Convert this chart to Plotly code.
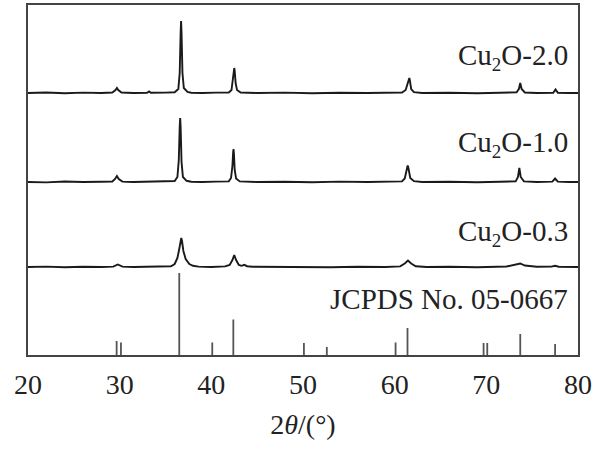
import plotly.graph_objects as go

# ---------------- data ----------------
# 2theta positions (deg) and intensity above each pattern's baseline (a.u.)
cu2o_20_x = [20.0, 22.0, 24.0, 26.0, 28.0, 29.2, 29.55, 29.7, 29.85, 30.2, 31.5, 33.0, 33.2, 33.4, 35.0,
             36.0, 36.4, 36.55, 36.65, 36.7, 36.75, 36.85, 37.0, 37.4, 37.8, 39.0, 40.5, 41.9, 42.2,
             42.35, 42.45, 42.5, 42.55, 42.65, 42.8, 43.2, 45.0, 48.0, 51.0, 54.0, 57.0, 60.8, 61.2,
             61.4, 61.55, 61.6, 61.65, 61.8, 62.1, 63.0, 66.0, 69.0, 71.5, 73.3, 73.55, 73.7, 73.85,
             74.2, 75.5, 77.3, 77.55, 77.8, 79.0, 80.0]
cu2o_20_y = [0.0, 0.5, -0.3, 0.4, 0.0, 0.5, 3.0, 5.0, 3.0, 0.5, 0.0, 0.3, 1.5, 0.2, 0.4,
             0.8, 4.0, 20.0, 60.0, 72.0, 60.0, 20.0, 5.0, 1.2, 0.3, 0.0, 0.4, 0.5, 3.0,
             12.0, 22.0, 25.0, 22.0, 10.0, 3.0, 0.5, 0.0, 0.4, -0.3, 0.3, 0.0, 0.5, 3.0,
             10.0, 14.0, 15.0, 13.0, 4.0, 0.8, 0.0, 0.3, -0.2, 0.3, 0.6, 4.0, 10.0, 4.0,
             0.5, 0.0, 0.3, 3.5, 0.3, 0.0, 0.0]

cu2o_10_x = [20.0, 22.0, 24.0, 26.0, 28.0, 29.2, 29.5, 29.7, 29.9, 30.3, 31.5, 33.0, 35.0,
             36.0, 36.3, 36.45, 36.55, 36.6, 36.65, 36.75, 36.9, 37.3, 37.8, 39.0, 40.5, 41.9, 42.15,
             42.3, 42.38, 42.42, 42.46, 42.55, 42.7, 43.1, 45.0, 48.0, 51.0, 54.0, 57.0, 60.8, 61.1,
             61.3, 61.42, 61.5, 61.7, 62.1, 63.0, 66.0, 69.0, 71.5, 73.2, 73.45, 73.6, 73.75,
             74.1, 75.5, 77.2, 77.5, 77.8, 79.0, 80.0]
cu2o_10_y = [0.0, -0.4, 0.5, 0.0, 0.3, 0.5, 3.0, 6.0, 3.0, 0.4, 0.0, 0.4, 0.3,
             1.0, 5.0, 22.0, 55.0, 64.0, 55.0, 20.0, 5.0, 1.2, 0.3, 0.0, 0.4, 0.6, 4.0,
             16.0, 30.0, 33.0, 29.0, 12.0, 3.5, 0.6, 0.0, 0.3, -0.3, 0.4, 0.0, 0.6, 3.5,
             11.0, 16.5, 14.0, 4.0, 0.8, 0.0, 0.3, -0.2, 0.3, 0.6, 5.0, 14.0, 5.0,
             0.6, 0.0, 0.4, 3.5, 0.4, 0.0, 0.0]

cu2o_03_x = [20.0, 22.0, 24.0, 26.0, 28.0, 29.3, 29.8, 30.3, 31.5, 33.0, 34.5, 35.6, 36.0,
             36.3, 36.5, 36.65, 36.72, 36.8, 36.95, 37.2, 37.6, 38.0, 38.6, 40.0, 41.5, 42.0,
             42.3, 42.5, 42.7, 43.0, 43.3, 43.6, 43.9, 44.5, 47.0, 50.0, 53.0, 56.0, 59.0, 60.6,
             61.1, 61.45, 61.8, 62.3, 63.5, 66.0, 69.0, 72.2, 73.2, 73.7, 74.2, 75.5, 77.1, 77.5,
             77.9, 79.0, 80.0]
cu2o_03_y = [0.0, 0.4, -0.3, 0.3, 0.0, 0.4, 2.5, 0.4, 0.0, 0.3, 0.2, 0.8, 3.0,
             9.0, 18.0, 27.0, 29.0, 26.0, 16.0, 8.0, 3.0, 1.2, 0.4, 0.0, 0.6, 2.0,
             7.0, 12.0, 7.0, 2.0, 1.2, 2.2, 0.8, 0.2, 0.0, 0.3, -0.2, 0.3, 0.0, 0.6,
             3.5, 6.5, 3.5, 0.8, 0.0, 0.3, -0.2, 0.5, 2.0, 3.5, 1.5, 0.2, 0.4, 1.2,
             0.3, 0.0, 0.0]

# vertical offsets of the stacked patterns (a.u.)
offsets = {"Cu2O-2.0": 262.0, "Cu2O-1.0": 173.0, "Cu2O-0.3": 88.0}

# JCPDS No. 05-0667 reference lines
jcpds_x = [29.67, 30.14, 36.5, 40.1, 42.4, 50.1, 52.6, 60.1, 61.4, 69.7, 70.1, 73.7, 77.5]
jcpds_y = [14.0, 12.5, 82.0, 12.5, 35.5, 12.0, 8.0, 12.5, 27.0, 12.0, 12.0, 21.0, 11.0]

x_ticks = [20, 30, 40, 50, 60, 70, 80]
SUB = "<sub><span style='font-size:19px'>2</span></sub>"
labels = ["Cu" + SUB + "O-2.0", "Cu" + SUB + "O-1.0", "Cu" + SUB + "O-0.3", "JCPDS No. 05-0667"]

# ---------------- figure ----------------
FONT = "Liberation Serif"
fig = go.Figure()

patterns = [("Cu2O-2.0", cu2o_20_x, cu2o_20_y),
            ("Cu2O-1.0", cu2o_10_x, cu2o_10_y),
            ("Cu2O-0.3", cu2o_03_x, cu2o_03_y)]
for name, xs, ys in patterns:
    fig.add_trace(go.Scatter(x=xs, y=[v + offsets[name] for v in ys], mode="lines",
                             line=dict(color="#1a1a1a", width=1.9), name=name,
                             showlegend=False, hoverinfo="skip"))

stick_x, stick_y = [], []
for px, py in zip(jcpds_x, jcpds_y):
    stick_x += [px, px, None]
    stick_y += [0, py, None]
fig.add_trace(go.Scatter(x=stick_x, y=stick_y, mode="lines",
                         line=dict(color="#555555", width=1.8),
                         showlegend=False, hoverinfo="skip"))

label_y = [0.852, 0.604, 0.348, 0.16]
for txt, yy in zip(labels, label_y):
    fig.add_annotation(text=txt, xref="paper", yref="paper", x=0.985, y=yy,
                       xanchor="right", yanchor="middle", showarrow=False,
                       font=dict(family=FONT, size=29, color="#222"))

fig.update_layout(
    width=607, height=457,
    margin=dict(l=28, r=29, t=5, b=102, autoexpand=False),
    paper_bgcolor="white", plot_bgcolor="white",
    font=dict(family=FONT, size=28, color="#222"),
)
fig.update_xaxes(range=[20, 80], tickvals=x_ticks, ticktext=[str(t) for t in x_ticks],
                 automargin=False,
                 showgrid=False, zeroline=False, showline=True, mirror=True,
                 linecolor="#444", linewidth=2, ticks="outside", ticklen=3,
                 tickcolor="rgba(0,0,0,0)", tickfont=dict(family=FONT, size=28, color="#222"),
                 title=dict(text="2<i>θ</i>/(°)", font=dict(family=FONT, size=28, color="#222"),
                            standoff=16))
fig.update_yaxes(range=[0, 350], showticklabels=False, showgrid=False, zeroline=False,
                 automargin=False,
                 showline=True, mirror=True, linecolor="#444", linewidth=2, ticks="")

fig.write_html("out.html", config={"displayModeBar": False, "staticPlot": True},
               post_script="document.body.style.margin='0';")
